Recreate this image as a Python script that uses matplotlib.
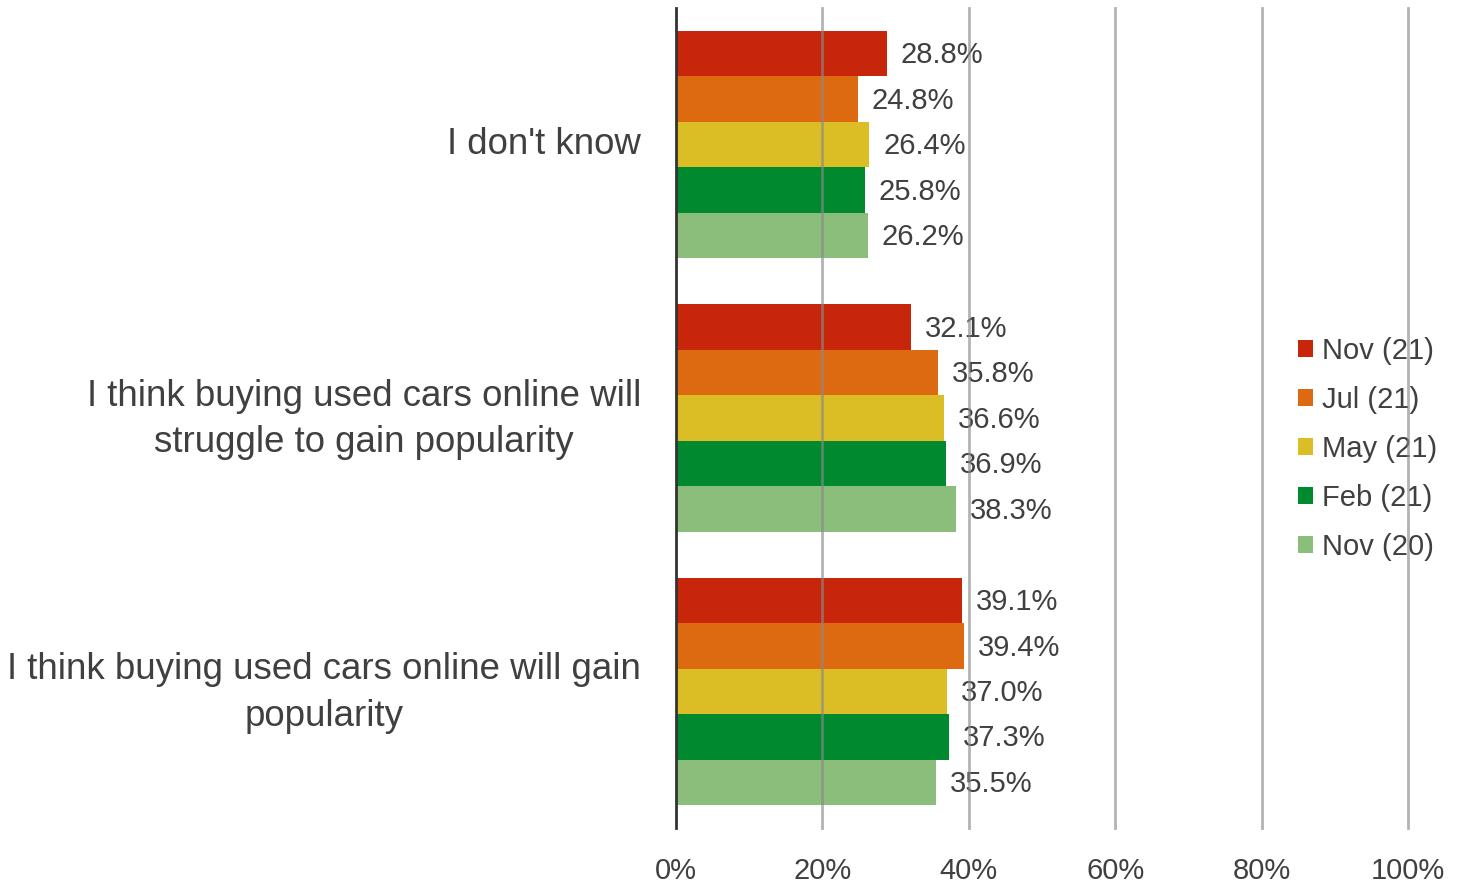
import matplotlib
matplotlib.use("Agg")
import matplotlib.pyplot as plt
import matplotlib.transforms as mtransforms
from matplotlib.patches import Patch
import numpy as np

plt.rcParams['font.family'] = ['Liberation Sans', 'DejaVu Sans']

categories = ["I don't know",
              "I think buying used cars online will\nstruggle to gain popularity",
              "I think buying used cars online will gain\npopularity"]
series_names = ["Nov (21)", "Jul (21)", "May (21)", "Feb (21)", "Nov (20)"]
nov21 = [28.8, 32.1, 39.1]
jul21 = [24.8, 35.8, 39.4]
may21 = [26.4, 36.6, 37.0]
feb21 = [25.8, 36.9, 37.3]
nov20 = [26.2, 38.3, 35.5]
xticks = [0, 20, 40, 60, 80, 100]
xtick_labels = ["0%", "20%", "40%", "60%", "80%", "100%"]

colors = ["#C8260A", "#DD6A10", "#DBBE25", "#00892E", "#8BBE7A"]
text_color = "#404040"
series = [nov21, jul21, may21, feb21, nov20]

fig = plt.figure(figsize=(14.6, 8.84), dpi=100)
ax = fig.add_axes([676/1460, 1-828/884, (1408-676)/1460, (828-8)/884])

h = 0.1664
y = np.arange(len(categories))
for j, (vals, col, name) in enumerate(zip(series, colors, series_names)):
    pos = y + (j - 2) * h
    ax.barh(pos, vals, height=h, color=col, linewidth=0, zorder=2, label=name)
    for p, v in zip(pos, vals):
        ax.annotate(f"{v:.1f}%", xy=(v, p), xytext=(10, -1.2), textcoords="offset points",
                    ha="left", va="center", fontsize=21, color=text_color, zorder=3)

ax.set_xlim(0, 100)
ax.set_ylim(2.5, -0.5)
ax.set_xticks(xticks)
ax.set_xticklabels(xtick_labels, fontsize=21, color=text_color)
ax.set_yticks(y)
ax.set_yticklabels(categories, fontsize=26.4, color=text_color, ha="right",
                   multialignment="center", linespacing=1.42)
ax.tick_params(axis="both", length=0)
ax.tick_params(axis="x", pad=21)
ax.tick_params(axis="y", pad=25)

# nudge category labels upward to sit on the group centre
for lab in ax.get_yticklabels():
    nlines = lab.get_text().count("\n") + 1
    dy = (4 + 4 * (nlines - 1)) / 100.0
    lab.set_transform(lab.get_transform() +
                      mtransforms.ScaledTranslation(0, dy, fig.dpi_scale_trans))

for s in ["top", "right", "bottom"]:
    ax.spines[s].set_visible(False)
ax.spines["left"].set_color("#333333")
ax.spines["left"].set_linewidth(2)
ax.spines["left"].set_zorder(7)

for xv in xticks[1:]:
    ax.axvline(xv, color="#8a8a8a", alpha=0.65, linewidth=2, zorder=6, clip_on=False)

handles = [Patch(facecolor=c, edgecolor="none", label=n) for c, n in zip(colors, series_names)]
leg = ax.legend(handles=handles, loc="center left", bbox_to_anchor=(1298/1460, 1-449/884),
                bbox_transform=fig.transFigure, frameon=False, fontsize=21,
                handlelength=0.52, handleheight=0.52, handletextpad=0.3,
                labelspacing=0.72, borderaxespad=0, borderpad=0)
for t in leg.get_texts():
    t.set_color(text_color)
leg.set_zorder(5)

fig.savefig("out.png", dpi=100)
